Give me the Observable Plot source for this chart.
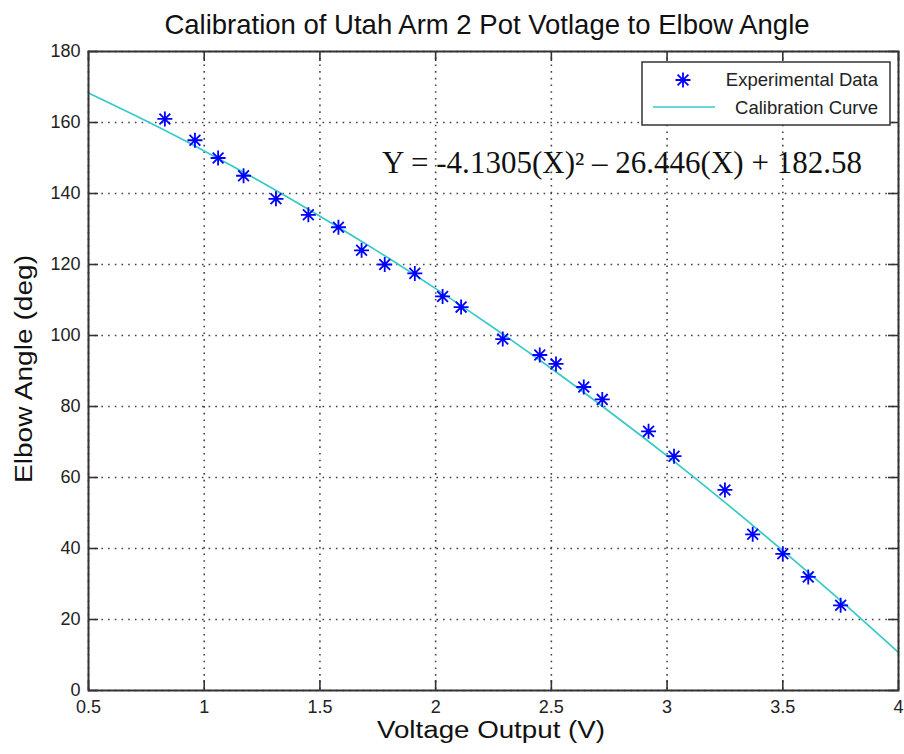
<!DOCTYPE html>
<html>
<head>
<meta charset="utf-8">
<script src="https://cdn.jsdelivr.net/npm/d3@7"></script>
<script src="https://cdn.jsdelivr.net/npm/@observablehq/plot@0.6"></script>
<style>
  html, body { margin: 0; padding: 0; background: #fff; }
  #chart { width: 904px; height: 754px; }
</style>
</head>
<body>
<div id="chart"></div>
<script>
// ---- Data ----
const voltage = [0.83, 0.96, 1.06, 1.17, 1.31, 1.45, 1.58, 1.68, 1.78, 1.91, 2.03, 2.11, 2.29, 2.45, 2.52, 2.64, 2.72, 2.92, 3.03, 3.25, 3.37, 3.50, 3.61, 3.75];
const angle   = [161, 155, 150, 145, 138.5, 134, 130.5, 124, 120, 117.5, 111, 108, 99, 94.5, 92, 85.5, 82, 73, 66, 56.5, 44, 38.5, 32, 24];

// Calibration curve
const curveX = [0.5, 0.75, 1.0, 1.25, 1.5, 1.75, 2.0, 2.25, 2.5, 2.75, 3.0, 3.25, 3.5, 3.75, 4.0];
const curveY = [168.3, 160.4, 152.0, 143.1, 133.6, 123.7, 113.2, 102.2, 90.7, 78.6, 66.1, 53.0, 39.4, 25.3, 10.7];

const xTicks = [0.5, 1, 1.5, 2, 2.5, 3, 3.5, 4];
const yTicks = [0, 20, 40, 60, 80, 100, 120, 140, 160, 180];

const titleText = "Calibration of Utah Arm 2 Pot Votlage to Elbow Angle";
const xLabel = "Voltage Output (V)";
const yLabel = "Elbow Angle (deg)";
const equationText = "Y = -4.1305(X)\u00B2 \u2013 26.446(X) + 182.58";
const legendLabels = ["Experimental Data", "Calibration Curve"];

// ---- Build tables ----
const points = voltage.map((v, i) => ({v, a: angle[i]}));
const curve = curveX.map((v, i) => ({v, a: curveY[i]}));

const W = 904, H = 754;
const mT = 51, mB = 64, mL = 88, mR = 6;
const plotW = W - mL - mR, plotH = H - mT - mB;

// MATLAB-like '*' marker
const star = {
  draw(ctx, size) {
    const r = Math.sqrt(size / Math.PI);
    const d = r * 0.72;
    ctx.moveTo(0, -r); ctx.lineTo(0, r);
    ctx.moveTo(-r, 0); ctx.lineTo(r, 0);
    ctx.moveTo(-d, -d); ctx.lineTo(d, d);
    ctx.moveTo(-d, d); ctx.lineTo(d, -d);
  }
};

const gridStyle = {stroke: "#222", strokeOpacity: 0.85, strokeDasharray: "1.6,5.1", strokeWidth: 1.6};
const curveColor = "#35c9c9";
const dotColor = "#0000ff";

const chart = Plot.plot({
  width: W,
  height: H,
  marginTop: mT, marginBottom: mB, marginLeft: mL, marginRight: mR,
  style: {fontFamily: "'Liberation Sans', Arial, sans-serif", color: "#222", background: "#fff"},
  x: {domain: [0.5, 4]},
  y: {domain: [0, 180]},
  marks: [
    Plot.gridX(xTicks, gridStyle),
    Plot.gridY(yTicks, gridStyle),
    Plot.line(curve, {x: "v", y: "a", stroke: curveColor, strokeWidth: 1.7, curve: "natural"}),
    Plot.dot(points, {x: "v", y: "a", symbol: star, r: 7.5, fill: "none", stroke: dotColor, strokeWidth: 1.8}),
    // inward ticks on all four sides
    Plot.tickX(xTicks, {x: d => d, insetTop: plotH - 10, stroke: "#333", strokeWidth: 1.6}),
    Plot.tickX(xTicks, {x: d => d, insetBottom: plotH - 10, stroke: "#333", strokeWidth: 1.6}),
    Plot.tickY(yTicks, {y: d => d, insetRight: plotW - 10, stroke: "#333", strokeWidth: 1.6}),
    Plot.tickY(yTicks, {y: d => d, insetLeft: plotW - 10, stroke: "#333", strokeWidth: 1.6}),
    Plot.frame({stroke: "#333", strokeWidth: 2}),
    Plot.axisX(xTicks, {tickSize: 0, tickPadding: 10, fontSize: 18, tickFormat: d => String(d), label: null, fill: "#222"}),
    Plot.axisY(yTicks, {tickSize: 0, tickPadding: 8, fontSize: 18, tickFormat: d => String(d), label: null, fill: "#222"})
  ]
});

document.getElementById("chart").appendChild(chart);

// ---- Annotations: title, axis labels, equation, legend ----
const svg = d3.select(chart);
const sans = "'Liberation Sans', Arial, sans-serif";

svg.append("text")
  .attr("x", 487).attr("y", 34)
  .attr("text-anchor", "middle")
  .attr("font-family", sans).attr("font-size", 27.5).attr("fill", "#111")
  .text(titleText);

svg.append("text")
  .attr("x", 491).attr("y", 738)
  .attr("text-anchor", "middle")
  .attr("font-family", sans).attr("font-size", 23).attr("fill", "#111")
  .attr("textLength", 228).attr("lengthAdjust", "spacingAndGlyphs")
  .text(xLabel);

svg.append("text")
  .attr("transform", "translate(32,369) rotate(-90)")
  .attr("text-anchor", "middle")
  .attr("font-family", sans).attr("font-size", 23).attr("fill", "#111")
  .attr("textLength", 228).attr("lengthAdjust", "spacingAndGlyphs")
  .text(yLabel);

svg.append("text")
  .attr("x", 382).attr("y", 173)
  .attr("text-anchor", "start")
  .attr("font-family", "'Liberation Serif', 'Times New Roman', serif")
  .attr("font-size", 31).attr("fill", "#111")
  .attr("textLength", 480)
  .text(equationText);

// Legend
const lg = svg.append("g");
lg.append("rect")
  .attr("x", 642).attr("y", 62).attr("width", 248).attr("height", 63)
  .attr("fill", "#fff").attr("stroke", "#333").attr("stroke-width", 1.5);
const starPath = d3.path();
star.draw(starPath, 7.5 * 7.5 * Math.PI);
lg.append("path")
  .attr("d", starPath.toString())
  .attr("transform", "translate(683,80)")
  .attr("fill", "none").attr("stroke", dotColor).attr("stroke-width", 1.8);
lg.append("line")
  .attr("x1", 653).attr("x2", 715).attr("y1", 107).attr("y2", 107)
  .attr("stroke", curveColor).attr("stroke-width", 1.7);
lg.append("text")
  .attr("x", 878).attr("y", 86).attr("text-anchor", "end")
  .attr("font-family", sans).attr("font-size", 18.5).attr("fill", "#222")
  .text(legendLabels[0]);
lg.append("text")
  .attr("x", 878).attr("y", 114).attr("text-anchor", "end")
  .attr("font-family", sans).attr("font-size", 18.5).attr("fill", "#222")
  .text(legendLabels[1]);
</script>
</body>
</html>
